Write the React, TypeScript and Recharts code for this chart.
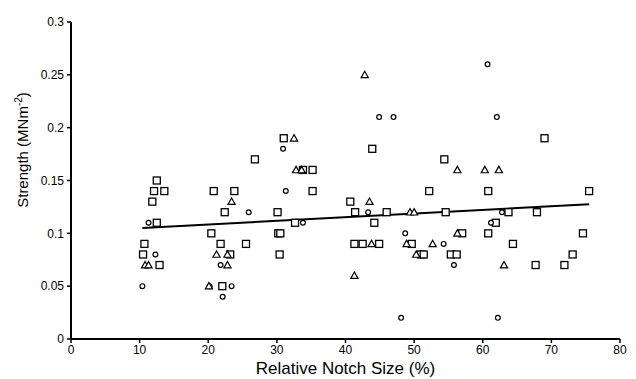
import React from 'react';
import {
  ScatterChart,
  Scatter,
  XAxis,
  YAxis,
  ReferenceLine,
  Label,
} from 'recharts';

// Squares series
const squareX = [
  12.5, 12.1, 13.6, 11.85, 12.5, 10.7, 10.5, 12.9,
  31.0, 26.8, 33.8, 35.2, 20.8, 23.8, 35.2, 22.4, 30.1, 32.65, 20.45, 30.2, 30.5, 21.8, 25.5, 23.2, 30.4, 22.05,
  43.9, 54.4, 52.2, 40.7, 41.4, 46.0, 54.6, 44.2, 57.0, 41.3, 42.5, 44.9, 49.65, 51.0, 51.4, 55.35, 56.2,
  69.0, 60.8, 75.5, 63.75, 67.9, 61.9, 60.8, 74.6, 64.4, 73.1, 67.7, 71.9,
];
const squareY = [
  0.15, 0.14, 0.14, 0.13, 0.11, 0.09, 0.08, 0.07,
  0.19, 0.17, 0.16, 0.16, 0.14, 0.14, 0.14, 0.12, 0.12, 0.11, 0.1, 0.1, 0.1, 0.09, 0.09, 0.08, 0.08, 0.05,
  0.18, 0.17, 0.14, 0.13, 0.12, 0.12, 0.12, 0.11, 0.1, 0.09, 0.09, 0.09, 0.09, 0.08, 0.08, 0.08, 0.08,
  0.19, 0.14, 0.14, 0.12, 0.12, 0.11, 0.1, 0.1, 0.09, 0.08, 0.07, 0.07,
];

// Circles series
const circleX = [
  11.3, 12.3, 10.4,
  30.9, 31.3, 25.9, 33.8, 21.8, 20.2, 23.4, 22.1,
  44.9, 47.0, 43.3, 48.7, 54.3, 55.8, 48.1,
  60.7, 62.05, 62.8, 61.2, 62.2,
];
const circleY = [
  0.11, 0.08, 0.05,
  0.18, 0.14, 0.12, 0.11, 0.07, 0.05, 0.05, 0.04,
  0.21, 0.21, 0.12, 0.1, 0.09, 0.07, 0.02,
  0.26, 0.21, 0.12, 0.11, 0.02,
];

// Triangles series
const triangleX = [
  10.8, 11.3,
  32.5, 32.8, 33.6, 23.4, 21.2, 22.8, 22.8, 20.1,
  42.8, 56.3, 43.5, 49.4, 50.0, 56.3, 43.8, 48.9, 52.7, 50.3, 41.3,
  60.3, 62.35, 63.1,
];
const triangleY = [
  0.07, 0.07,
  0.19, 0.16, 0.16, 0.13, 0.08, 0.08, 0.07, 0.05,
  0.25, 0.16, 0.13, 0.12, 0.12, 0.1, 0.09, 0.09, 0.09, 0.08, 0.06,
  0.16, 0.16, 0.07,
];

// fitted trend line end points
const trendX = [10.4, 75.5];
const trendY = [0.105, 0.1275];

const xTicks = [0, 10, 20, 30, 40, 50, 60, 70, 80];
const yTicks = [0, 0.05, 0.1, 0.15, 0.2, 0.25, 0.3];

const toPoints = (xs: number[], ys: number[]) => xs.map((x, i) => ({ x, y: ys[i] }));

const squares = toPoints(squareX, squareY);
const circles = toPoints(circleX, circleY);
const triangles = toPoints(triangleX, triangleY);

const FONT = 'Liberation Sans, Arial, Helvetica, sans-serif';

const SquareShape = (props: any) => {
  const { cx, cy } = props;
  return <rect x={cx - 3.5} y={cy - 3.5} width={7} height={7} fill="#fff" stroke="#000" strokeWidth={1.3} />;
};

const CircleShape = (props: any) => {
  const { cx, cy } = props;
  return <circle cx={cx} cy={cy} r={2.4} fill="#fff" stroke="#000" strokeWidth={1.2} />;
};

const TriangleShape = (props: any) => {
  const { cx, cy } = props;
  const d = `M${cx},${cy - 3.6} L${cx + 3.6},${cy + 2.8} L${cx - 3.6},${cy + 2.8} Z`;
  return <path d={d} fill="#fff" stroke="#000" strokeWidth={1.2} />;
};

const tickStyle = { fontSize: 12, fill: '#000', fontFamily: FONT };

export default function App() {
  return (
    <div style={{ position: 'fixed', left: 0, top: 0, width: 636, height: 379, background: '#fff' }}>
      <ScatterChart width={636} height={379} margin={{ top: 22, right: 16, bottom: 0, left: 0 }}>
        <XAxis
          type="number"
          dataKey="x"
          domain={[0, 80]}
          ticks={xTicks}
          height={40}
          axisLine={{ stroke: '#000', strokeWidth: 2 }}
          tickLine={{ stroke: '#000', strokeWidth: 1.5 }}
          tickSize={4}
          tickMargin={2}
          tick={tickStyle}
        >
          <Label
            content={(p: any) => {
              const vb = p.viewBox;
              return (
                <text
                  x={vb.x + vb.width / 2}
                  y={374}
                  textAnchor="middle"
                  fontFamily={FONT}
                  fontSize={17}
                  fill="#000"
                >
                  Relative Notch Size (%)
                </text>
              );
            }}
          />
        </XAxis>
        <YAxis
          type="number"
          dataKey="y"
          domain={[0, 0.3]}
          ticks={yTicks}
          width={71}
          axisLine={{ stroke: '#000', strokeWidth: 2 }}
          tickLine={{ stroke: '#000', strokeWidth: 1.5 }}
          tickSize={4}
          tickMargin={3}
          tick={tickStyle}
          tickFormatter={(v: number) => String(v)}
        >
          <Label
            content={() => (
              <text
                x={0}
                y={0}
                transform="translate(28,150) rotate(-90)"
                textAnchor="middle"
                fontFamily={FONT}
                fontSize={15}
                fill="#000"
              >
                Strength (MNm
                <tspan dy={-6} fontSize={10}>-2</tspan>
                <tspan dy={6}>)</tspan>
              </text>
            )}
          />
        </YAxis>
        <ReferenceLine
          segment={[
            { x: trendX[0], y: trendY[0] },
            { x: trendX[1], y: trendY[1] },
          ]}
          stroke="#000"
          strokeWidth={2}
          ifOverflow="extendDomain"
        />
        <Scatter data={squares} shape={SquareShape} isAnimationActive={false} />
        <Scatter data={circles} shape={CircleShape} isAnimationActive={false} />
        <Scatter data={triangles} shape={TriangleShape} isAnimationActive={false} />
      </ScatterChart>
    </div>
  );
}
